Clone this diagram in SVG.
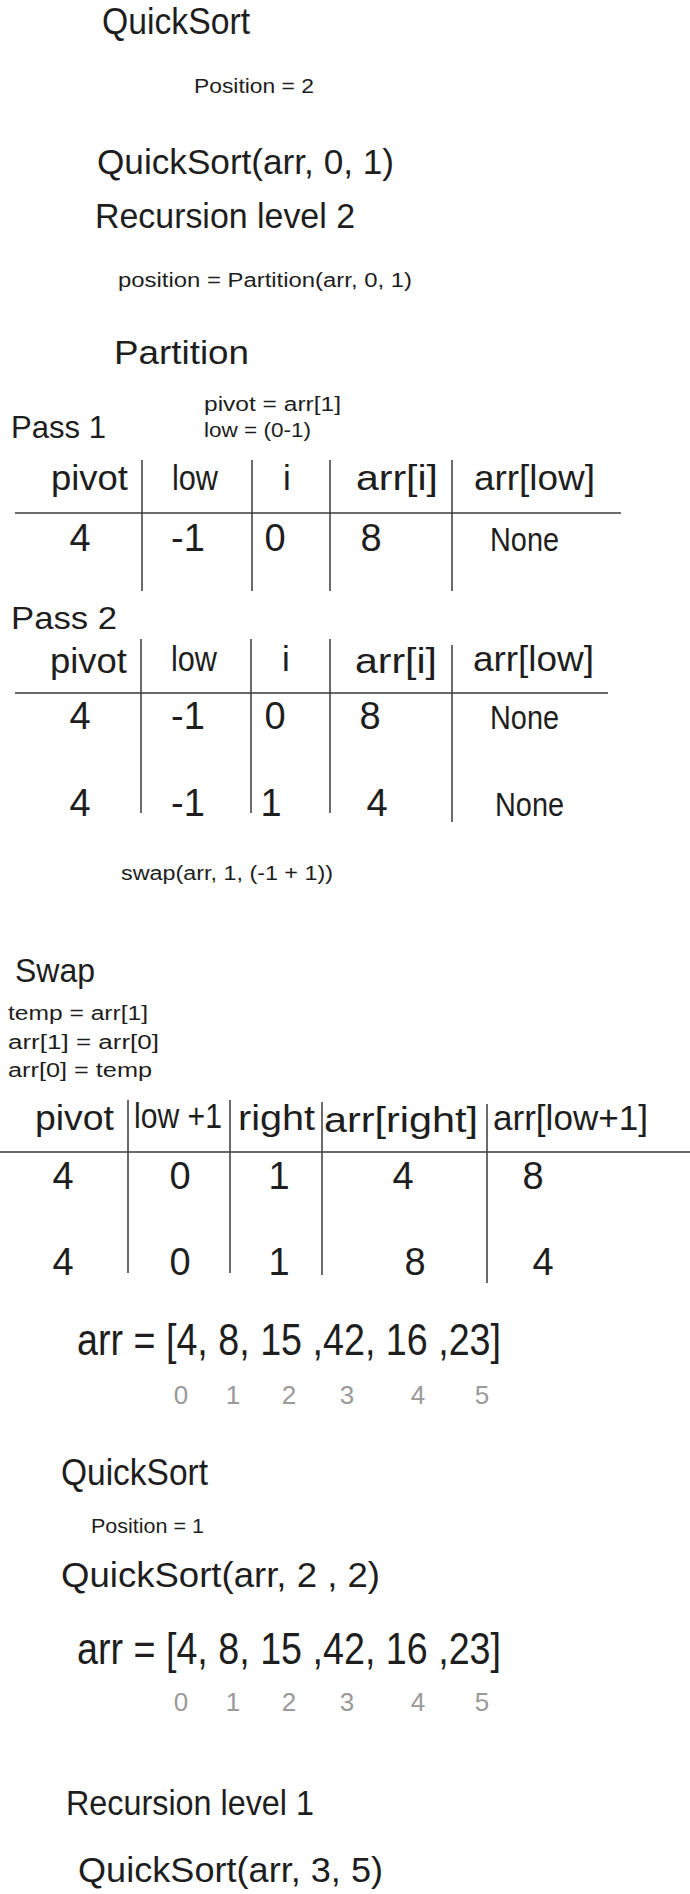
<svg xmlns="http://www.w3.org/2000/svg" width="690" height="1894" viewBox="0 0 690 1894">
<style>
text{font-family:"Liberation Sans","DejaVu Sans",sans-serif;fill:#1e1e1e}
.xl{font-size:35px}
.ttl{font-size:37px}
.l{font-size:34px}
.m{font-size:32px}
.s{font-size:20px}
.arr{font-size:45px}
.v{font-size:38px;text-anchor:middle}
.none{font-size:34px}
.idx{font-size:26px;fill:#9a9a9a;text-anchor:middle}
.ln{stroke:#3a3a3a;stroke-width:1.5;fill:none}
</style>
<rect width="690" height="1894" fill="#ffffff"/>

<g id="title-quicksort-1"><text class="ttl" x="102" y="34" textLength="148" lengthAdjust="spacingAndGlyphs">QuickSort</text></g>
<g id="position-2"><text class="s" x="194" y="93" textLength="120" lengthAdjust="spacingAndGlyphs">Position = 2</text></g>
<g id="call-quicksort-0-1"><text class="xl" x="97" y="174" textLength="297" lengthAdjust="spacingAndGlyphs">QuickSort(arr, 0, 1)</text></g>
<g id="recursion-level-2"><text class="xl" x="95" y="228" textLength="260" lengthAdjust="spacingAndGlyphs">Recursion level 2</text></g>
<g id="position-partition"><text class="s" x="118" y="287" textLength="294" lengthAdjust="spacingAndGlyphs">position = Partition(arr, 0, 1)</text></g>
<g id="partition-title"><text class="l" x="114" y="364" textLength="135" lengthAdjust="spacingAndGlyphs">Partition</text></g>
<g id="pivot-low-init">
<text class="s" x="204" y="411" textLength="137" lengthAdjust="spacingAndGlyphs">pivot = arr[1]</text>
<text class="s" x="204" y="437" textLength="107" lengthAdjust="spacingAndGlyphs">low = (0-1)</text>
</g>
<g id="pass-1-label"><text class="m" x="11" y="438" textLength="95" lengthAdjust="spacingAndGlyphs">Pass 1</text></g>

<g id="table-pass-1">
<text class="xl" x="51" y="490" textLength="77" lengthAdjust="spacingAndGlyphs">pivot</text>
<text class="xl" x="172" y="490" textLength="46" lengthAdjust="spacingAndGlyphs">low</text>
<text class="xl" x="287" y="490" text-anchor="middle">i</text>
<text class="xl" x="356" y="490" textLength="82" lengthAdjust="spacingAndGlyphs">arr[i]</text>
<text class="xl" x="474" y="490" textLength="121" lengthAdjust="spacingAndGlyphs">arr[low]</text>
<text class="v" x="80" y="551">4</text>
<text class="v" x="188" y="551">-1</text>
<text class="v" x="275" y="551">0</text>
<text class="v" x="371" y="551">8</text>
<text class="none" x="490" y="551" textLength="69" lengthAdjust="spacingAndGlyphs">None</text>
<g class="ln">
<line x1="15" y1="513" x2="621" y2="513"/>
<line x1="142" y1="460" x2="142" y2="591"/>
<line x1="252" y1="460" x2="252" y2="591"/>
<line x1="330" y1="460" x2="330" y2="591"/>
<line x1="452" y1="460" x2="452" y2="591"/>
</g>
</g>

<g id="pass-2-label"><text class="m" x="11" y="629" textLength="106" lengthAdjust="spacingAndGlyphs">Pass 2</text></g>

<g id="table-pass-2">
<text class="xl" x="50" y="673" textLength="77" lengthAdjust="spacingAndGlyphs">pivot</text>
<text class="xl" x="171" y="671" textLength="46" lengthAdjust="spacingAndGlyphs">low</text>
<text class="xl" x="286" y="671" text-anchor="middle">i</text>
<text class="xl" x="355" y="673" textLength="82" lengthAdjust="spacingAndGlyphs">arr[i]</text>
<text class="xl" x="473" y="671" textLength="121" lengthAdjust="spacingAndGlyphs">arr[low]</text>
<text class="v" x="80" y="729">4</text>
<text class="v" x="188" y="729">-1</text>
<text class="v" x="275" y="729">0</text>
<text class="v" x="370" y="729">8</text>
<text class="none" x="490" y="729" textLength="69" lengthAdjust="spacingAndGlyphs">None</text>
<text class="v" x="80" y="816">4</text>
<text class="v" x="188" y="816">-1</text>
<text class="v" x="271" y="816">1</text>
<text class="v" x="377" y="816">4</text>
<text class="none" x="495" y="816" textLength="69" lengthAdjust="spacingAndGlyphs">None</text>
<g class="ln">
<line x1="15" y1="693" x2="608" y2="693"/>
<line x1="141" y1="639" x2="141" y2="813"/>
<line x1="251" y1="639" x2="251" y2="813"/>
<line x1="330" y1="639" x2="330" y2="813"/>
<line x1="452" y1="645" x2="452" y2="822"/>
</g>
</g>

<g id="swap-call"><text class="s" x="121" y="880" textLength="212" lengthAdjust="spacingAndGlyphs">swap(arr, 1, (-1 + 1))</text></g>

<g id="swap-title"><text class="l" x="15" y="982" textLength="80" lengthAdjust="spacingAndGlyphs">Swap</text></g>
<g id="swap-steps">
<text class="s" x="8" y="1020" textLength="140" lengthAdjust="spacingAndGlyphs">temp = arr[1]</text>
<text class="s" x="8" y="1049" textLength="151" lengthAdjust="spacingAndGlyphs">arr[1] = arr[0]</text>
<text class="s" x="8" y="1077" textLength="144" lengthAdjust="spacingAndGlyphs">arr[0] = temp</text>
</g>

<g id="table-swap">
<text class="xl" x="35" y="1130" textLength="79" lengthAdjust="spacingAndGlyphs">pivot</text>
<text class="xl" x="134" y="1128" textLength="88" lengthAdjust="spacingAndGlyphs">low +1</text>
<text class="xl" x="238" y="1130" textLength="77" lengthAdjust="spacingAndGlyphs">right</text>
<text class="xl" x="324" y="1132" textLength="154" lengthAdjust="spacingAndGlyphs">arr[right]</text>
<text class="xl" x="493" y="1130" textLength="155" lengthAdjust="spacingAndGlyphs">arr[low+1]</text>
<text class="v" x="63" y="1189">4</text>
<text class="v" x="180" y="1189">0</text>
<text class="v" x="279" y="1189">1</text>
<text class="v" x="403" y="1189">4</text>
<text class="v" x="533" y="1189">8</text>
<text class="v" x="63" y="1275">4</text>
<text class="v" x="180" y="1275">0</text>
<text class="v" x="279" y="1275">1</text>
<text class="v" x="415" y="1275">8</text>
<text class="v" x="543" y="1275">4</text>
<g class="ln">
<line x1="0" y1="1152" x2="690" y2="1152"/>
<line x1="128" y1="1100" x2="128" y2="1273"/>
<line x1="230" y1="1100" x2="230" y2="1273"/>
<line x1="322" y1="1102" x2="322" y2="1275"/>
<line x1="487" y1="1104" x2="487" y2="1283"/>
</g>
</g>

<g id="arr-state-1">
<text class="arr" x="77" y="1355" textLength="424" lengthAdjust="spacingAndGlyphs">arr = [4, 8, 15 ,42, 16 ,23]</text>
<text class="idx" x="181" y="1404">0</text>
<text class="idx" x="233" y="1404">1</text>
<text class="idx" x="289" y="1404">2</text>
<text class="idx" x="347" y="1404">3</text>
<text class="idx" x="418" y="1404">4</text>
<text class="idx" x="482" y="1404">5</text>
</g>

<g id="title-quicksort-2"><text class="ttl" x="61" y="1485" textLength="147" lengthAdjust="spacingAndGlyphs">QuickSort</text></g>
<g id="position-1"><text class="s" x="91" y="1533" textLength="113" lengthAdjust="spacingAndGlyphs">Position = 1</text></g>
<g id="call-quicksort-2-2"><text class="xl" x="61" y="1587" textLength="319" lengthAdjust="spacingAndGlyphs">QuickSort(arr, 2 , 2)</text></g>

<g id="arr-state-2">
<text class="arr" x="77" y="1664" textLength="424" lengthAdjust="spacingAndGlyphs">arr = [4, 8, 15 ,42, 16 ,23]</text>
<text class="idx" x="181" y="1711">0</text>
<text class="idx" x="233" y="1711">1</text>
<text class="idx" x="289" y="1711">2</text>
<text class="idx" x="347" y="1711">3</text>
<text class="idx" x="418" y="1711">4</text>
<text class="idx" x="482" y="1711">5</text>
</g>

<g id="recursion-level-1"><text class="xl" x="66" y="1815" textLength="248" lengthAdjust="spacingAndGlyphs">Recursion level 1</text></g>
<g id="call-quicksort-3-5"><text class="xl" x="78" y="1882" textLength="305" lengthAdjust="spacingAndGlyphs">QuickSort(arr, 3, 5)</text></g>

<g id="connectors"></g>
</svg>
